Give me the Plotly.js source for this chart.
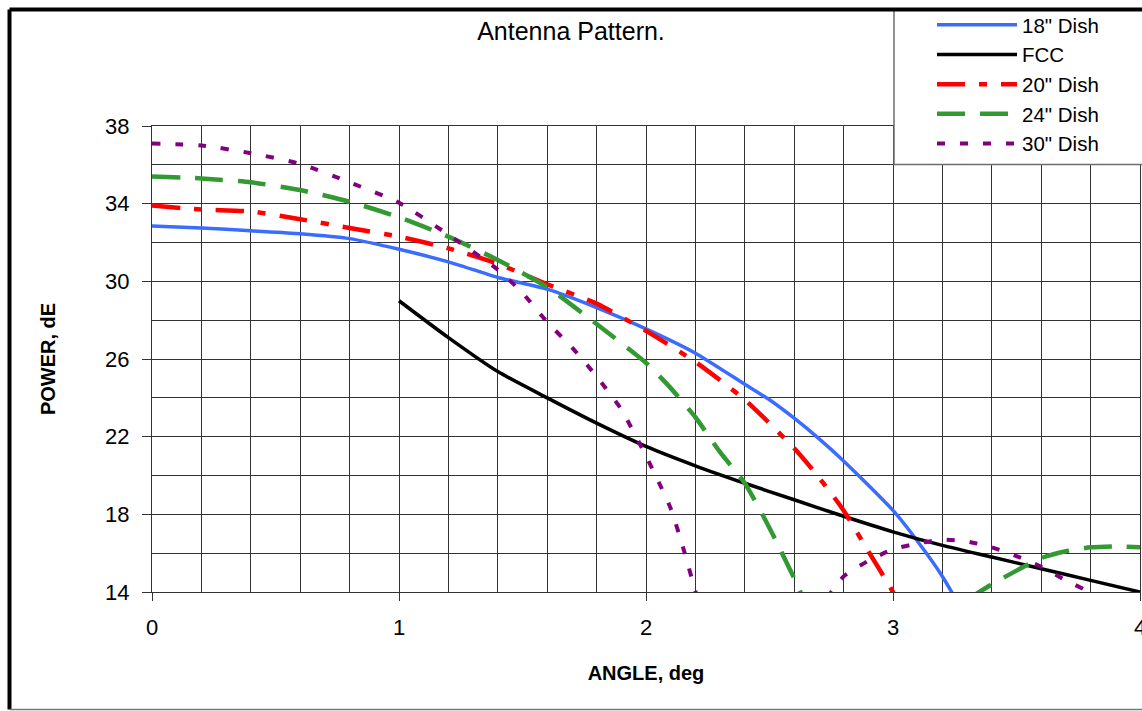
<!DOCTYPE html>
<html>
<head>
<meta charset="utf-8">
<script src="https://cdn.plot.ly/plotly-3.0.1.min.js"></script>
<style>html,body{margin:0;padding:0;background:#fff;}#chart{width:1142px;height:711px;}</style>
</head>
<body>
<div id="chart"></div>
<script>
// Angle (deg) and power (dE) values
var dish18X = [0, 0.2, 0.4, 0.6, 0.8, 1.0, 1.2, 1.4, 1.6, 1.8, 2.0, 2.2, 2.4, 2.5, 2.6, 2.7, 2.8, 3.0, 3.1, 3.2, 3.3];
var dish18Y = [32.85, 32.75, 32.6, 32.45, 32.2, 31.65, 31.0, 30.2, 29.6, 28.65, 27.55, 26.3, 24.7, 23.9, 22.95, 21.9, 20.75, 18.2, 16.6, 14.8, 12.6];

var fccX = [1.0, 1.2, 1.4, 1.6, 1.8, 2.0, 2.2, 2.4, 2.6, 2.8, 3.0, 3.2, 3.4, 3.6, 3.8, 4.0];
var fccY = [29.0, 27.1, 25.35, 24.0, 22.7, 21.5, 20.5, 19.6, 18.75, 17.9, 17.1, 16.4, 15.8, 15.2, 14.6, 14.0];

var dish20X = [0, 0.2, 0.4, 0.6, 0.8, 1.0, 1.2, 1.4, 1.6, 1.8, 2.0, 2.2, 2.4, 2.6, 2.7, 2.8, 2.9, 3.0, 3.05];
var dish20Y = [33.9, 33.7, 33.6, 33.2, 32.75, 32.3, 31.7, 30.9, 29.85, 28.85, 27.45, 25.85, 23.9, 21.4, 19.9, 18.2, 16.1, 14.0, 12.8];

var dish24X = [0, 0.2, 0.4, 0.6, 0.8, 1.0, 1.2, 1.4, 1.6, 1.8, 2.0, 2.1, 2.2, 2.3, 2.4, 2.5, 2.6, 2.65, 3.0, 3.3, 3.4, 3.5, 3.6, 3.7, 3.8, 3.9, 4.0];
var dish24Y = [35.4, 35.3, 35.1, 34.7, 34.1, 33.3, 32.3, 31.1, 29.7, 27.8, 25.8, 24.5, 23.0, 21.2, 19.6, 17.3, 14.7, 13.3, null, 13.6, 14.4, 15.1, 15.75, 16.1, 16.3, 16.35, 16.3];

var dish30X = [0, 0.2, 0.4, 0.6, 0.8, 1.0, 1.2, 1.4, 1.5, 1.6, 1.7, 1.8, 1.9, 2.0, 2.05, 2.1, 2.15, 2.2, 2.25, 2.5, 2.7, 2.75, 2.8, 2.9, 3.0, 3.1, 3.2, 3.3, 3.4, 3.5, 3.6, 3.7, 3.8, 3.85];
var dish30Y = [37.1, 37.0, 36.6, 36.05, 35.1, 34.05, 32.4, 30.6, 29.4, 27.9, 26.6, 25.1, 23.4, 21.0, 19.7, 18.3, 16.3, 14.05, 12.0, null, 12.6, 14.0, 14.8, 15.6, 16.2, 16.5, 16.7, 16.6, 16.3, 15.85, 15.3, 14.6, 13.95, 13.4];

var seriesNames = ['18" Dish', 'FCC', '20" Dish', '24" Dish', '30" Dish'];
var xTickVals = [0, 1, 2, 3, 4];
var yTickVals = [14, 18, 22, 26, 30, 34, 38];

var FONT = 'Arial, "Liberation Sans", sans-serif';
var GRID = '#333333';

var traces = [
  {x: dish18X, y: dish18Y, name: seriesNames[0], mode: 'lines', line: {color: '#3A6DFF', width: 3.5, shape: 'spline', smoothing: 0.6}},
  {x: fccX, y: fccY, name: seriesNames[1], mode: 'lines', line: {color: '#000000', width: 3.5, shape: 'spline', smoothing: 0.6}},
  {x: dish20X, y: dish20Y, name: seriesNames[2], mode: 'lines', line: {color: '#FF0000', width: 4.5, dash: '28px,14px,8px,14px', shape: 'spline', smoothing: 0.6}},
  {x: dish24X, y: dish24Y, name: seriesNames[3], mode: 'lines', line: {color: '#339933', width: 4.5, dash: '28px,15px', shape: 'spline', smoothing: 0.6}},
  {x: dish30X, y: dish30Y, name: seriesNames[4], mode: 'lines', line: {color: '#800080', width: 4, dash: '8px,15px', shape: 'spline', smoothing: 0.6}}
];

var pxX = function (p) { return (p - 152) / 988; };
var pxY = function (p) { return (592 - p) / 466; };

var layout = {
  width: 1142, height: 711,
  margin: {l: 152, r: 2, t: 126, b: 119, pad: 0},
  paper_bgcolor: '#ffffff', plot_bgcolor: '#ffffff',
  font: {family: FONT, color: '#000', size: 22},
  title: {text: 'Antenna Pattern.', font: {family: FONT, size: 25, color: '#000'},
          x: 0.5, xref: 'container', xanchor: 'center', y: 1 - 31 / 711, yref: 'container', yanchor: 'middle'},
  showlegend: true,
  legend: {x: pxX(932), y: pxY(5), xanchor: 'left', yanchor: 'top', bgcolor: 'rgba(0,0,0,0)', borderwidth: 0,
           font: {family: FONT, size: 20.5, color: '#000'}, itemwidth: 80, tracegroupgap: 0},
  xaxis: {
    range: [0, 4], tickvals: xTickVals, ticktext: xTickVals.map(String),
    showgrid: true, gridcolor: GRID, gridwidth: 1,
    minor: {dtick: 0.2, tick0: 0, showgrid: true, gridcolor: GRID, gridwidth: 1, ticks: ''},
    showline: true, linecolor: GRID, linewidth: 1, mirror: true,
    ticks: 'outside', ticklen: 8, tickcolor: GRID, tickwidth: 1,
    tickfont: {family: FONT, size: 22, color: '#000'}, ticklabelstandoff: 8, ticklabeloverflow: 'allow',
    zeroline: false, automargin: false,
    title: {text: '<b>ANGLE, deg</b>', font: {family: FONT, size: 20, color: '#000'}, standoff: 26}
  },
  yaxis: {
    range: [14, 38], tickvals: yTickVals, ticktext: yTickVals.map(String),
    showgrid: true, gridcolor: GRID, gridwidth: 1,
    minor: {dtick: 2, tick0: 14, showgrid: true, gridcolor: GRID, gridwidth: 1, ticks: ''},
    showline: true, linecolor: GRID, linewidth: 1, mirror: true,
    ticks: 'outside', ticklen: 9, tickcolor: GRID, tickwidth: 1,
    tickfont: {family: FONT, size: 22, color: '#000'}, ticklabelstandoff: 8, ticklabeloverflow: 'allow',
    zeroline: false, automargin: false,
    title: {text: '<b>POWER, dE</b>', font: {family: FONT, size: 20, color: '#000'}, standoff: 44}
  },
  shapes: [
    {type: 'rect', xref: 'paper', yref: 'paper', x0: pxX(894), x1: pxX(1160), y0: pxY(164.5), y1: pxY(9.5),
     fillcolor: '#ffffff', line: {color: '#6e6e6e', width: 1.5}, layer: 'above'},
    {type: 'line', xref: 'paper', yref: 'paper', x0: pxX(9.5), x1: pxX(1160), y0: pxY(9.5), y1: pxY(9.5),
     line: {color: '#000', width: 4}, layer: 'above'},
    {type: 'line', xref: 'paper', yref: 'paper', x0: pxX(9.5), x1: pxX(9.5), y0: pxY(9.5), y1: pxY(709.5),
     line: {color: '#000', width: 4}, layer: 'above'},
    {type: 'line', xref: 'paper', yref: 'paper', x0: pxX(9.5), x1: pxX(1160), y0: pxY(709.5), y1: pxY(709.5),
     line: {color: '#777', width: 1.5}, layer: 'above'}
  ]
};

Plotly.newPlot('chart', traces, layout, {staticPlot: true, displayModeBar: false});
</script>
</body>
</html>
